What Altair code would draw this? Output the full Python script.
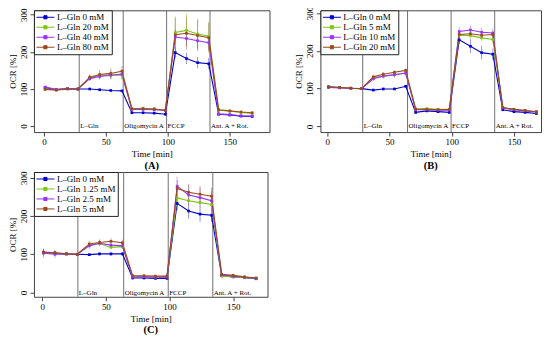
import altair as alt
import pandas as pd

FONT = "Liberation Serif"

times = [1, 10, 19, 27.5, 37, 45, 54, 63, 71, 80, 89, 98, 106, 115, 124, 133, 141, 150, 159, 168]
inj_times_A = [28.5, 64, 99, 134]
inj_times_B = [28.5, 64.5, 99.5, 134.5]
inj_times_C = [28, 64, 99, 134]
inj_labels = ["L–Gln", "Oligomycin A", "FCCP", "Ant. A + Rot."]
colors = ["#0000cd", "#7cc617", "#9b30ff", "#9a4a1a"]

# Panel A
names_A = ["L–Gln 0 mM", "L–Gln 20 mM", "L–Gln 40 mM", "L–Gln 80 mM"]
vals_A = [
    [104, 98, 101, 100, 100, 98, 96, 95, 36, 36, 35, 32, 198, 182, 171, 168, 32, 30, 27, 26],
    [100, 98, 101, 100, 130, 137, 138, 137, 47, 48, 46, 43, 252, 258, 248, 242, 43, 40, 37, 34],
    [105, 99, 101, 100, 128, 134, 137, 140, 45, 45, 44, 42, 240, 236, 230, 225, 33, 31, 28, 27],
    [99, 97, 100, 100, 132, 139, 142, 148, 47, 47, 46, 43, 246, 250, 244, 238, 44, 41, 38, 36],
]
errs_A = [
    [4, 3, 3, 2, 3, 3, 3, 3, 3, 3, 3, 3, 15, 15, 15, 15, 3, 3, 3, 3],
    [5, 4, 3, 2, 8, 10, 12, 14, 5, 5, 5, 5, 45, 45, 42, 40, 4, 4, 4, 4],
    [5, 4, 3, 2, 6, 8, 10, 12, 4, 4, 4, 4, 20, 20, 20, 20, 3, 3, 3, 3],
    [5, 4, 3, 2, 8, 12, 14, 14, 5, 5, 5, 5, 45, 45, 42, 40, 4, 4, 4, 4],
]

# Panel B
names_B = ["L–Gln 0 mM", "L–Gln 5 mM", "L–Gln 10 mM", "L–Gln 20 mM"]
vals_B = [
    [105, 103, 101, 100, 96, 99, 99, 106, 37, 41, 39, 37, 229, 212, 195, 191, 44, 39, 37, 34],
    [104, 103, 101, 100, 128, 133, 136, 141, 46, 47, 45, 45, 241, 240, 234, 230, 50, 45, 42, 38],
    [103, 102, 101, 100, 126, 133, 137, 141, 44, 44, 43, 43, 251, 255, 249, 247, 49, 44, 41, 39],
    [104, 103, 101, 100, 131, 138, 143, 148, 46, 45, 44, 45, 243, 245, 241, 243, 50, 45, 42, 38],
]
errs_B = [
    [3, 3, 2, 2, 3, 3, 3, 3, 3, 3, 3, 3, 12, 18, 18, 15, 3, 3, 3, 3],
    [3, 3, 2, 2, 5, 5, 5, 6, 3, 3, 3, 3, 10, 10, 10, 10, 3, 3, 3, 3],
    [4, 3, 2, 2, 6, 7, 8, 8, 3, 3, 3, 3, 12, 12, 12, 12, 3, 3, 3, 3],
    [3, 3, 2, 2, 5, 6, 6, 6, 3, 3, 3, 3, 8, 8, 8, 8, 3, 3, 3, 3],
]

# Panel C
names_C = ["L–Gln 0 mM", "L–Gln 1.25 mM", "L–Gln 2.5 mM", "L–Gln 5 mM"]
vals_C = [
    [105, 103, 101, 100, 99, 101, 101, 101, 38, 38, 37, 37, 233, 213, 205, 202, 44, 41, 39, 36],
    [104, 102, 101, 100, 125, 128, 118, 120, 42, 42, 41, 41, 247, 240, 235, 230, 43, 41, 39, 37],
    [103, 100, 101, 100, 122, 129, 124, 122, 40, 41, 40, 40, 278, 255, 248, 240, 46, 43, 40, 37],
    [106, 104, 101, 100, 127, 131, 134, 130, 44, 44, 43, 43, 272, 262, 257, 252, 48, 45, 41, 38],
]
errs_C = [
    [8, 6, 3, 2, 3, 4, 5, 5, 3, 3, 3, 3, 18, 20, 20, 18, 3, 3, 3, 3],
    [8, 6, 3, 2, 5, 5, 5, 5, 3, 3, 3, 3, 10, 10, 10, 10, 3, 3, 3, 3],
    [12, 10, 3, 2, 8, 8, 8, 8, 3, 3, 3, 3, 25, 25, 25, 25, 4, 4, 4, 4],
    [8, 6, 3, 2, 8, 8, 8, 8, 3, 3, 3, 3, 22, 22, 22, 22, 4, 4, 4, 4],
]

LEGEND_SYMBOL = "M-1,0H3M0.65,-0.35H1.35V0.35H0.65Z"


def panel(names, vals, errs, inj_times, xdom, ydom, w, h, label):
    rows = []
    for n, vs, es in zip(names, vals, errs):
        for t, v, e in zip(times, vs, es):
            rows.append({"series": n, "t": t, "v": v, "lo": v - e, "hi": v + e})
    df = pd.DataFrame(rows)
    inj = pd.DataFrame({"t": inj_times, "label": inj_labels})

    xenc = alt.X(
        "t:Q",
        scale=alt.Scale(domain=xdom, nice=False, zero=False),
        axis=alt.Axis(values=[0, 50, 100, 150], title="Time [min]", grid=False),
    )
    yenc = alt.Y(
        "v:Q",
        scale=alt.Scale(domain=ydom, nice=False, zero=False),
        axis=alt.Axis(values=[0, 50, 100, 150, 200, 250, 300], title="OCR [%]",
                      grid=False, labelAngle=270, labelAlign="center",
                      labelBaseline="bottom", titlePadding=2),
    )
    cscale = alt.Scale(domain=names, range=colors)
    col = alt.Color(
        "series:N", scale=cscale, sort=names,
        legend=alt.Legend(
            title=None, orient="top-left", offset=0, padding=2,
            strokeColor="#222", fillColor="white",
            labelFont=FONT, labelFontSize=9, labelColor="black",
            symbolType=LEGEND_SYMBOL, symbolSize=81, symbolStrokeWidth=1,
            symbolOpacity=1, labelOffset=11, rowPadding=-2.5,
        ),
    )

    base = alt.Chart(df)
    vlines = alt.Chart(inj).mark_rule(color="#707070", strokeWidth=1).encode(x="t:Q")
    vtext = alt.Chart(inj).mark_text(
        align="left", baseline="middle", dx=1, font=FONT, fontSize=7, color="black"
    ).encode(x="t:Q", y=alt.datum(0), text="label:N")
    ebars = base.mark_rule(strokeWidth=0.8, opacity=0.55).encode(
        x="t:Q", y="lo:Q", y2="hi:Q", color=col
    )
    lines = base.mark_line(strokeWidth=1.1).encode(x=xenc, y=yenc, color=col)
    pts = base.mark_point(shape="square", filled=True, size=7, opacity=1).encode(
        x="t:Q", y="v:Q", color=col
    )
    return alt.layer(vlines, ebars, lines, pts, vtext).properties(
        width=w, height=h,
        title=alt.TitleParams(label, orient="bottom", font=FONT, fontSize=10.5,
                              fontWeight="bold", offset=2),
    )


pA = panel(names_A, vals_A, errs_A, inj_times_A, [-8, 182], [-16, 312], 236, 122, "(A)")
pB = panel(names_B, vals_B, errs_B, inj_times_B, [-5.5, 171.7], [-15, 307], 221, 122, "(B)")
pC = panel(names_C, vals_C, errs_C, inj_times_C, [-6.5, 177], [-11, 315], 234, 125, "(C)")

top = alt.hconcat(pA, pB, spacing=24).resolve_scale(color="independent")
chart = alt.vconcat(top, pC, spacing=-3).resolve_scale(color="independent").properties(
    padding={"left": 0, "top": -3, "right": 0, "bottom": 0}
).configure_view(stroke="#444", strokeWidth=1).configure_axis(
    labelFont=FONT, labelFontSize=9, labelColor="black",
    titleFont=FONT, titleFontSize=9, titleFontWeight="normal", titleColor="black",
    tickSize=4, tickColor="#444", domain=False, labelPadding=1.5, titlePadding=3,
)

chart.save("out.html", embed_options={"renderer": "svg", "actions": False})
